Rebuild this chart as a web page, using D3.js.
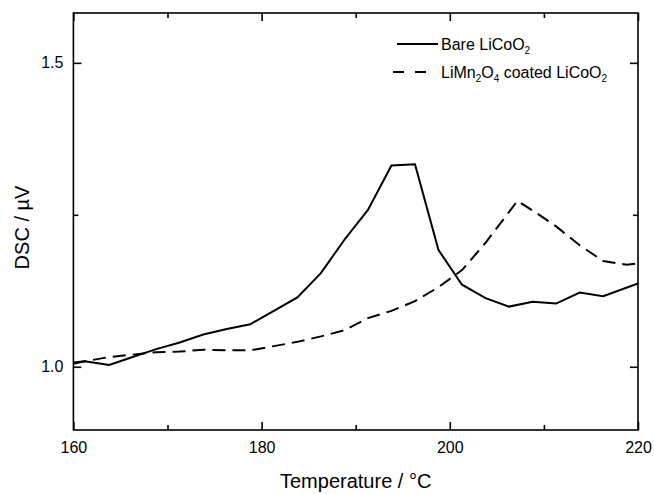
<!DOCTYPE html>
<html>
<head>
<meta charset="utf-8">
<script src="https://cdn.jsdelivr.net/npm/d3@7"></script>
<style>
  body { margin: 0; background: #fff; }
  svg { display: block; }
  text { font-family: "Liberation Sans", Arial, Helvetica, sans-serif; fill: #000; }
</style>
</head>
<body>
<svg id="chart" width="654" height="494"></svg>
<script>
// ---- data ----
const bareTemp = [160, 161.2, 163.8, 166.3, 168.8, 171.3, 173.8, 176.3, 178.8, 181.3, 183.8, 186.3, 188.8, 191.3, 193.8, 196.3, 198.8, 201.3, 203.8, 206.3, 208.8, 211.3, 213.8, 216.3, 220];
const bareDSC  = [1.007, 1.009, 1.003, 1.016, 1.029, 1.040, 1.053, 1.062, 1.070, 1.092, 1.114, 1.154, 1.209, 1.258, 1.331, 1.333, 1.192, 1.135, 1.113, 1.099, 1.107, 1.104, 1.122, 1.116, 1.137];
const coatTemp = [160, 161.2, 163.8, 166.3, 168.8, 171.3, 173.8, 176.3, 178.8, 181.3, 183.8, 186.3, 188.8, 191.3, 193.8, 196.3, 198.8, 201.3, 203.8, 207.2, 209.5, 211.3, 213.8, 216.3, 218.8, 220];
const coatDSC  = [1.005, 1.009, 1.016, 1.020, 1.024, 1.025, 1.028, 1.027, 1.027, 1.034, 1.041, 1.050, 1.060, 1.080, 1.092, 1.108, 1.131, 1.159, 1.204, 1.273, 1.250, 1.231, 1.200, 1.174, 1.168, 1.170];
const xMajorTicks = [160, 180, 200, 220];
const xMinorTicks = [170, 190, 210];
const yMajorTicks = [1.0, 1.5];
const yMinorTicks = [1.25];
const seriesNames = ["Bare LiCoO", "LiMn", "O", " coated LiCoO"];

// ---- layout ----
const L = 73.4, R = 638, T = 13, B = 430;
const svg = d3.select("#chart");
const x = d3.scaleLinear().domain([160, 220]).range([L, R]);
const y = d3.scaleLinear().domain([0.896, 1.582]).range([B, T]);

// frame
svg.append("rect").attr("x", L).attr("y", T).attr("width", R - L).attr("height", B - T)
  .attr("fill", "none").attr("stroke", "#000").attr("stroke-width", 1.6);

function styleAxis(g) {
  g.select(".domain").remove();
  g.selectAll("line").attr("stroke", "#000").attr("stroke-width", 1.6);
  g.selectAll("text").style("font-size", "16px").attr("fill", "#000")
    .style("font-family", '"Liberation Sans", Arial, sans-serif');
}

// bottom axis
svg.append("g").attr("transform", `translate(0,${B})`)
  .call(d3.axisBottom(x).tickValues(xMajorTicks).tickFormat(d3.format("d")).tickSizeInner(-8).tickSizeOuter(0).tickPadding(12))
  .call(styleAxis);
svg.append("g").attr("transform", `translate(0,${B})`)
  .call(d3.axisBottom(x).tickValues(xMinorTicks).tickFormat("").tickSizeInner(-5).tickSizeOuter(0))
  .call(styleAxis);
// top axis (ticks only)
svg.append("g").attr("transform", `translate(0,${T})`)
  .call(d3.axisTop(x).tickValues(xMajorTicks).tickFormat("").tickSizeInner(-8).tickSizeOuter(0))
  .call(styleAxis);
svg.append("g").attr("transform", `translate(0,${T})`)
  .call(d3.axisTop(x).tickValues(xMinorTicks).tickFormat("").tickSizeInner(-5).tickSizeOuter(0))
  .call(styleAxis);
// left axis
svg.append("g").attr("transform", `translate(${L},0)`)
  .call(d3.axisLeft(y).tickValues(yMajorTicks).tickFormat(d3.format(".1f")).tickSizeInner(-8).tickSizeOuter(0).tickPadding(10))
  .call(styleAxis);
svg.append("g").attr("transform", `translate(${L},0)`)
  .call(d3.axisLeft(y).tickValues(yMinorTicks).tickFormat("").tickSizeInner(-5).tickSizeOuter(0))
  .call(styleAxis);
// right axis (ticks only)
svg.append("g").attr("transform", `translate(${R},0)`)
  .call(d3.axisRight(y).tickValues(yMajorTicks).tickFormat("").tickSizeInner(-8).tickSizeOuter(0))
  .call(styleAxis);
svg.append("g").attr("transform", `translate(${R},0)`)
  .call(d3.axisRight(y).tickValues(yMinorTicks).tickFormat("").tickSizeInner(-5).tickSizeOuter(0))
  .call(styleAxis);

// lines
const line = d3.line().x(d => x(d[0])).y(d => y(d[1]));
const bare = d3.zip(bareTemp, bareDSC);
const coat = d3.zip(coatTemp, coatDSC);
const plot = svg.append("g");
plot.append("path").datum(coat).attr("d", line)
  .attr("fill", "none").attr("stroke", "#000").attr("stroke-width", 2)
  .attr("stroke-dasharray", "13,7").attr("stroke-linejoin", "miter");
plot.append("path").datum(bare).attr("d", line)
  .attr("fill", "none").attr("stroke", "#000").attr("stroke-width", 2)
  .attr("stroke-linejoin", "miter");

// axis titles
svg.append("text").attr("x", (L + R) / 2).attr("y", 488).attr("text-anchor", "middle")
  .style("font-size", "20px").text("Temperature / °C");
svg.append("text").attr("transform", `translate(29,${(T + B) / 2 + 6}) rotate(-90)`)
  .attr("text-anchor", "middle").style("font-size", "20px").text("DSC / µV");

// legend
const lg = svg.append("g");
lg.append("line").attr("x1", 397).attr("x2", 438).attr("y1", 44).attr("y2", 44)
  .attr("stroke", "#000").attr("stroke-width", 2);
lg.append("line").attr("x1", 393).attr("x2", 427).attr("y1", 72).attr("y2", 72)
  .attr("stroke", "#000").attr("stroke-width", 2).attr("stroke-dasharray", "11,11");
const t1 = lg.append("text").attr("x", 441).attr("y", 50).style("font-size", "16px");
t1.append("tspan").text(seriesNames[0]);
t1.append("tspan").attr("dy", 4).style("font-size", "10px").text("2");
const t2 = lg.append("text").attr("x", 441).attr("y", 78).style("font-size", "16px");
t2.append("tspan").text(seriesNames[1]);
t2.append("tspan").attr("dy", 4).style("font-size", "10px").text("2");
t2.append("tspan").attr("dy", -4).text(seriesNames[2]);
t2.append("tspan").attr("dy", 4).style("font-size", "10px").text("4");
t2.append("tspan").attr("dy", -4).text(seriesNames[3]);
t2.append("tspan").attr("dy", 4).style("font-size", "10px").text("2");
</script>
</body>
</html>
